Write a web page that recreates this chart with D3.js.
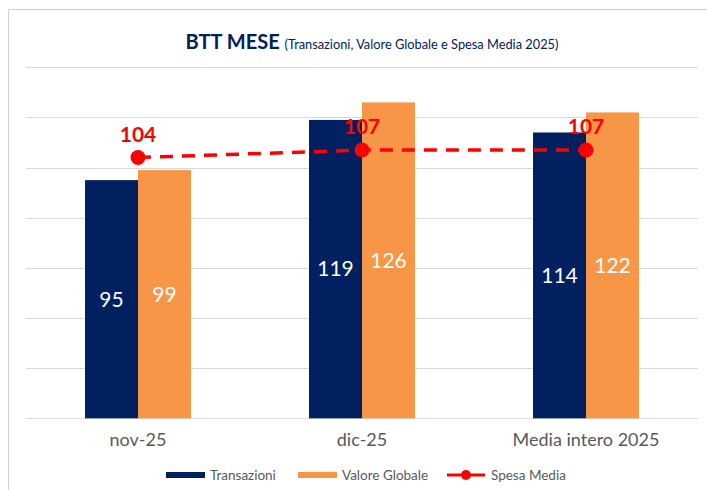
<!DOCTYPE html>
<html>
<head>
<meta charset="utf-8">
<script src="https://cdn.jsdelivr.net/npm/d3@7"></script>
<style>
  body { margin: 0; background: #fff; }
  svg { display: block; font-family: Lato, "Open Sans", sans-serif; }
</style>
</head>
<body>
<div id="chart"></div>
<script>
// DATA
const categories = ["nov-25", "dic-25", "Media intero 2025"];
const transazioni = [95, 119, 114];
const valoreGlobale = [99, 126, 122];
const spesaMedia = [104, 107, 107];
const seriesNames = ["Transazioni", "Valore Globale", "Spesa Media"];
const yTicks = [0, 20, 40, 60, 80, 100, 120, 140];

const width = 707, height = 490;
const navy = "#002060", orange = "#F79646", red = "#FF0000";

const svg = d3.select("#chart").append("svg")
  .attr("width", width)
  .attr("height", height);

// chart frame (only top/left edges show)
svg.append("path")
  .attr("d", `M8.5,${height} V9.5 H${width}`)
  .attr("fill", "none")
  .attr("stroke", "#d0d0d0")
  .attr("stroke-width", 1);

// SCALES
const x0 = d3.scaleBand()
  .domain(categories)
  .range([26, 698])
  .paddingInner(0.527)
  .paddingOuter(0.2635);

const x1 = d3.scaleBand()
  .domain(seriesNames.slice(0, 2))
  .range([0, x0.bandwidth()]);

const y = d3.scaleLinear()
  .domain([0, 140])
  .range([418.3, 67.3]);

// gridlines
svg.append("g")
  .selectAll("line")
  .data(yTicks)
  .join("line")
    .attr("x1", 26)
    .attr("x2", 698)
    .attr("y1", d => Math.round(y(d)) + 0.5)
    .attr("y2", d => Math.round(y(d)) + 0.5)
    .attr("stroke", "#d9d9d9")
    .attr("stroke-width", 1);

// bars
const rows = categories.map((c, i) => ({
  cat: c,
  vals: [
    { key: "Transazioni", v: transazioni[i], color: navy },
    { key: "Valore Globale", v: valoreGlobale[i], color: orange }
  ]
}));

const groups = svg.append("g")
  .selectAll("g")
  .data(rows)
  .join("g")
    .attr("transform", d => `translate(${x0(d.cat)},0)`);

groups.selectAll("rect")
  .data(d => d.vals)
  .join("rect")
    .attr("x", d => x1(d.key))
    .attr("y", d => y(d.v))
    .attr("width", x1.bandwidth())
    .attr("height", d => y(0) - y(d.v))
    .attr("fill", d => d.color);

groups.selectAll("text")
  .data(d => d.vals)
  .join("text")
    .attr("x", d => x1(d.key) + x1.bandwidth() / 2)
    .attr("y", d => (y(d.v) + y(0)) / 2)
    .attr("dy", "0.35em")
    .attr("text-anchor", "middle")
    .attr("fill", "#fff")
    .attr("font-size", 21)
    .text(d => d.v);

// Spesa Media line
const cx = c => x0(c) + x0.bandwidth() / 2;
const linePts = categories.map((c, i) => ({ cat: c, v: spesaMedia[i] }));

svg.append("path")
  .datum(linePts)
  .attr("fill", "none")
  .attr("stroke", red)
  .attr("stroke-width", 3.5)
  .attr("stroke-dasharray", "13,9")
  .attr("d", d3.line().x(d => cx(d.cat)).y(d => y(d.v)));

svg.append("g")
  .selectAll("circle")
  .data(linePts)
  .join("circle")
    .attr("cx", d => cx(d.cat))
    .attr("cy", d => y(d.v))
    .attr("r", 7.5)
    .attr("fill", red);

svg.append("g")
  .selectAll("text")
  .data(linePts)
  .join("text")
    .attr("x", d => cx(d.cat))
    .attr("y", d => y(d.v) - 16)
    .attr("text-anchor", "middle")
    .attr("fill", red)
    .attr("font-size", 21)
    .attr("font-weight", "bold")
    .text(d => d.v);

// category labels
svg.append("g")
  .selectAll("text")
  .data(categories)
  .join("text")
    .attr("x", d => cx(d))
    .attr("y", 446)
    .attr("text-anchor", "middle")
    .attr("fill", "#595959")
    .attr("font-size", 18)
    .text(d => d);

// title
const title = svg.append("text")
  .attr("x", 372)
  .attr("y", 49)
  .attr("text-anchor", "middle")
  .attr("fill", navy);
title.append("tspan")
  .attr("font-size", 20)
  .attr("font-weight", "bold")
  .text("BTT MESE ");
title.append("tspan")
  .attr("font-size", 12.8)
  .text("(Transazioni, Valore Globale e Spesa Media 2025)");

// legend
const legend = svg.append("g").attr("font-size", 13.5).attr("fill", "#595959");
const legendItems = [
  { name: seriesNames[0], x: 166, type: "bar", color: navy },
  { name: seriesNames[1], x: 298, type: "bar", color: orange },
  { name: seriesNames[2], x: 447, type: "line", color: red }
];
legendItems.forEach(it => {
  const g = legend.append("g").attr("transform", `translate(${it.x},475)`);
  if (it.type === "bar") {
    g.append("rect").attr("x", 0).attr("y", -3).attr("width", 39).attr("height", 6).attr("fill", it.color);
  } else {
    g.append("line").attr("x1", 0).attr("x2", 38).attr("y1", 0).attr("y2", 0)
      .attr("stroke", it.color).attr("stroke-width", 3);
    g.append("circle").attr("cx", 19).attr("cy", 0).attr("r", 5).attr("fill", it.color);
  }
  g.append("text").attr("x", 44).attr("y", 0).attr("dy", "0.35em").text(it.name);
});
</script>
</body>
</html>
